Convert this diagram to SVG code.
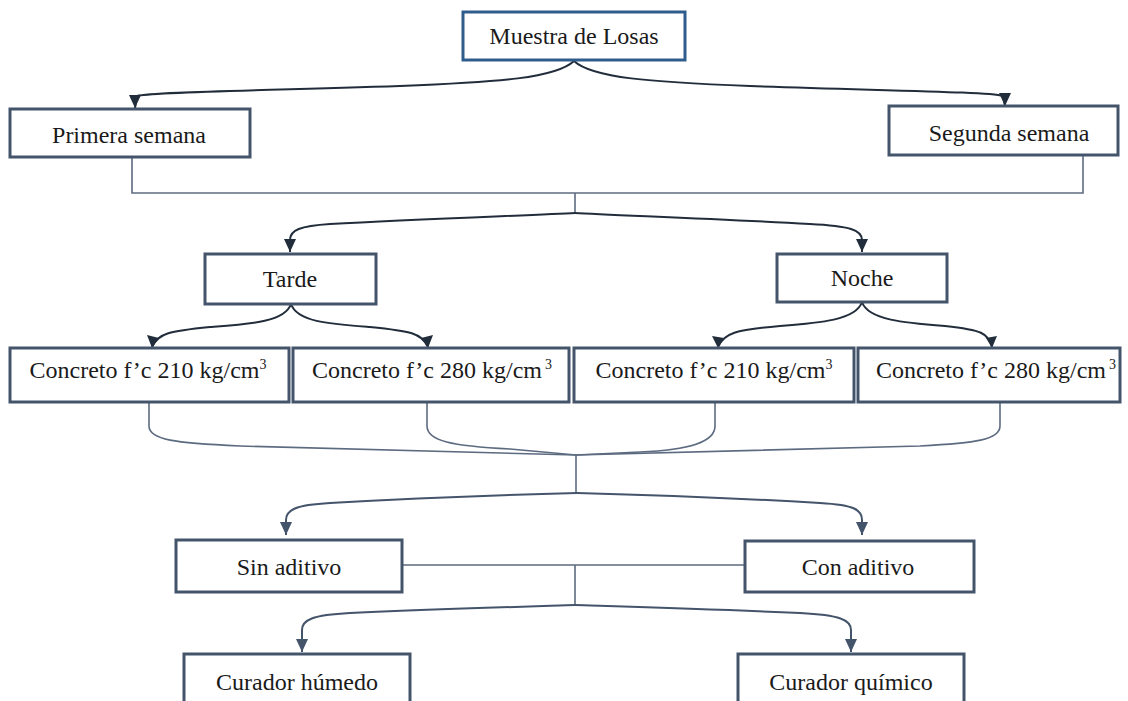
<svg xmlns="http://www.w3.org/2000/svg" width="1128" height="701" viewBox="0 0 1128 701">
<style>
.box{fill:#fff;stroke:#44546a;stroke-width:3}
.top{fill:#fff;stroke:#2e5d8c;stroke-width:3}
.t{font-family:"Liberation Serif","Times New Roman",serif;font-size:24px;fill:#1a1a1a;text-anchor:middle}
.arr{fill:none;stroke:#222d3c;stroke-width:2;marker-end:url(#ah)}
.arr2{fill:none;stroke:#44546a;stroke-width:2;marker-end:url(#ah2)}
.ln{fill:none;stroke:#5d6b80;stroke-width:1.6}
</style>
<defs>
<marker id="ah" markerWidth="12" markerHeight="14" refX="6" refY="13" orient="auto-start-reverse" markerUnits="userSpaceOnUse" viewBox="0 0 12 14">
<path d="M0,0 L12,0 L6,14 Z" fill="#222d3c" transform="rotate(0)"/>
</marker>
<marker id="ah2" markerWidth="12" markerHeight="14" refX="6" refY="13" markerUnits="userSpaceOnUse" viewBox="0 0 12 14">
<path d="M0,0 L12,0 L6,14 Z" fill="#44546a"/>
</marker>
</defs>
<g id="connectors">
<path class="ln" d="M132,157 V193 H1083 V155 M575,193 V213"/>
<path d="M574,61 C556,78 500,82 400,86 C250,91 150,92 137,96 L135,108" fill="none" stroke="#222d3c" stroke-width="2"/>
<path d="M574,61 C592,78 650,82 750,86 C900,91 990,92 1003,96 L1005,106" fill="none" stroke="#222d3c" stroke-width="2"/>
<path d="M575,213 C540,215 420,219 330,224 C300,226 290,230 290,240 L290,252" fill="none" stroke="#222d3c" stroke-width="2"/>
<path d="M575,213 C610,215 720,219 810,224 C850,226 862,230 862,240 L862,252" fill="none" stroke="#222d3c" stroke-width="2"/>
<path d="M291,304 C285,322 250,324 210,327 C170,331 158,333 152,347" fill="none" stroke="#222d3c" stroke-width="2"/>
<path d="M291,304 C297,322 330,324 370,327 C410,331 422,333 428,347" fill="none" stroke="#222d3c" stroke-width="2"/>
<path d="M862,302 C856,320 820,323 780,326 C735,330 724,333 718,347" fill="none" stroke="#222d3c" stroke-width="2"/>
<path d="M862,302 C868,320 905,323 945,326 C982,330 988,333 992,347" fill="none" stroke="#222d3c" stroke-width="2"/>
<path class="ln" d="M149,402 V426 C149,440 175,443 240,446 L576,455"/>
<path class="ln" d="M427,402 V426 C427,441 452,446 510,449 L576,455"/>
<path class="ln" d="M715,402 V426 C715,442 690,450 640,452 L576,455"/>
<path class="ln" d="M1000,402 V426 C1000,440 975,443 920,446 L576,455"/>
<path class="ln" d="M576,455 V493"/>
<path d="M577,493 C540,494 420,498 330,503 C295,505 286,510 286,520 L286,535" fill="none" stroke="#44546a" stroke-width="2"/>
<path d="M577,493 C615,494 735,498 820,503 C855,505 862,510 862,520 L862,535" fill="none" stroke="#44546a" stroke-width="2"/>
<path class="ln" d="M402,565 H745 M575,565 V605"/>
<path d="M575,605 C545,606 440,609 350,613 C312,615 302,620 302,630 L302,652" fill="none" stroke="#44546a" stroke-width="2"/>
<path d="M575,605 C605,606 710,609 800,613 C840,615 851,620 851,630 L851,652" fill="none" stroke="#44546a" stroke-width="2"/>
<g fill="#222d3c">
<path d="M129,95 L141,95 L135,108 Z"/>
<path d="M999,93 L1011,93 L1005,106 Z"/>
<path d="M284,239 L296,239 L290,252 Z"/>
<path d="M856,239 L868,239 L862,252 Z"/>
<path d="M147,335 L159,338 L152,348 Z"/>
<path d="M421,338 L433,335 L428,348 Z"/>
<path d="M712,336 L724,338 L718,348 Z"/>
<path d="M986,338 L997,336 L992,348 Z"/>
</g>
<g fill="#44546a">
<path d="M280,522 L292,522 L286,535 Z"/>
<path d="M856,522 L868,522 L862,535 Z"/>
<path d="M296,639 L308,639 L302,652 Z"/>
<path d="M845,639 L857,639 L851,652 Z"/>
</g>
</g>
<g id="muestra"><rect class="top" x="463" y="12" width="222" height="48"/><text class="t" x="574" y="44">Muestra de Losas</text></g>
<g id="primera"><rect class="box" x="10" y="109" width="240" height="48"/><text class="t" x="129" y="143">Primera semana</text></g>
<g id="segunda"><rect class="box" x="889" y="106" width="229" height="49"/><text class="t" x="1009" y="141">Segunda semana</text></g>
<g id="tarde"><rect class="box" x="205" y="254" width="171" height="50"/><text class="t" x="290" y="287">Tarde</text></g>
<g id="noche"><rect class="box" x="777" y="254" width="170" height="48"/><text class="t" x="862" y="286">Noche</text></g>
<g id="c1"><rect class="box" x="10" y="348" width="279" height="54"/><text class="t" x="148" y="378">Concreto f’c 210 kg/cm<tspan dy="-9" font-size="14">3</tspan></text></g>
<g id="c2"><rect class="box" x="293" y="348" width="276" height="54"/><text class="t" x="432" y="378">Concreto f’c 280 kg/cm<tspan dx="3" dy="-9" font-size="14">3</tspan></text></g>
<g id="c3"><rect class="box" x="574" y="348" width="280" height="54"/><text class="t" x="714" y="378">Concreto f’c 210 kg/cm<tspan dy="-9" font-size="14">3</tspan></text></g>
<g id="c4"><rect class="box" x="858" y="348" width="262" height="54"/><text class="t" x="996" y="378">Concreto f’c 280 kg/cm<tspan dx="3" dy="-9" font-size="14">3</tspan></text></g>
<g id="sin"><rect class="box" x="176" y="540" width="226" height="52"/><text class="t" x="289" y="575">Sin aditivo</text></g>
<g id="con"><rect class="box" x="745" y="541" width="229" height="51"/><text class="t" x="858" y="575">Con aditivo</text></g>
<g id="humedo"><rect class="box" x="184" y="654" width="226" height="60"/><text class="t" x="297" y="690">Curador húmedo</text></g>
<g id="quimico"><rect class="box" x="738" y="654" width="226" height="60"/><text class="t" x="851" y="690">Curador químico</text></g>
</svg>
